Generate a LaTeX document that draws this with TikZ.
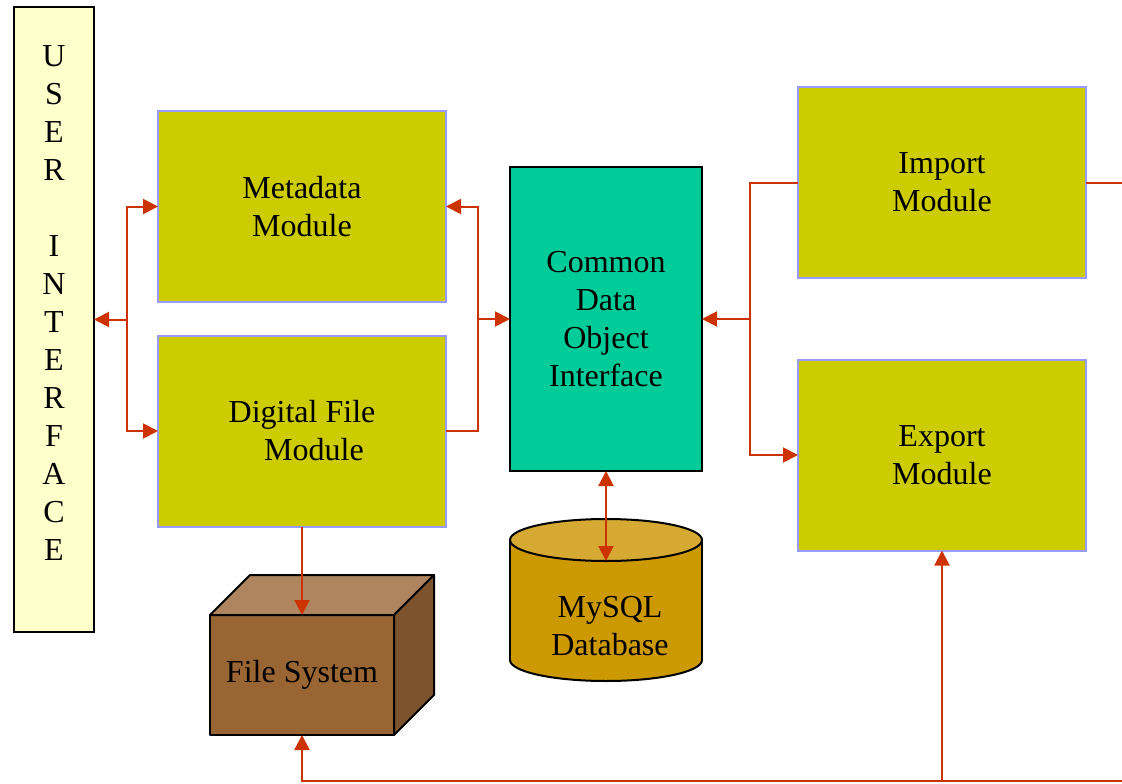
\documentclass[tikz,border=0pt]{standalone}
\usepackage{fontspec}
\setmainfont{Liberation Serif}
\usetikzlibrary{arrows.meta}
\definecolor{arrowc}{RGB}{204,51,0}
\definecolor{modfill}{RGB}{204,204,0}
\definecolor{modborder}{RGB}{153,153,255}
\definecolor{cdoifill}{RGB}{0,204,153}
\definecolor{uifill}{RGB}{255,255,204}
\definecolor{dbbody}{RGB}{204,153,0}
\definecolor{dbtop}{RGB}{214,169,51}
\definecolor{fsfront}{RGB}{153,102,51}
\definecolor{fstop}{RGB}{175,133,95}
\definecolor{fsside}{RGB}{124,83,45}
\begin{document}
\begin{tikzpicture}[x=1pt,y=-1pt,
  txt/.style={font=\fontsize{32}{38}\selectfont, align=center},
  modbox/.style={txt, draw=modborder, fill=modfill, line width=2pt,
    minimum width=288pt, minimum height=191pt, inner sep=0pt, outer sep=0pt},
  conn/.style={draw=arrowc, line width=2pt},
  arrowed/.style={conn, -{Triangle[length=15pt,width=15pt]}},
  darrowed/.style={conn, {Triangle[length=15pt,width=15pt]}-{Triangle[length=15pt,width=15pt]}},
  solidline/.style={draw=black, line width=2pt, line join=round},
]
\useasboundingbox[fill=white] (0,0) rectangle (1122,784);

% User interface
\node[txt, draw=black, fill=uifill, line width=2pt, minimum width=80pt,
  minimum height=625pt, inner sep=0pt, outer sep=0pt] (ui) at (54,319.5)
  {U\\S\\E\\R\\\mbox{}\\I\\N\\T\\E\\R\\F\\A\\C\\E\\[-6pt]\mbox{}};

% Modules
\node[modbox] (meta) at (302,206.5) {Metadata\\Module};
\node[modbox] (dig) at (302,431) {Digital File\\\hspace*{24pt}Module};
\node[modbox] (imp) at (942,182.5) {Import\\Module};
\node[modbox] (exp) at (942,455) {Export\\Module};

% Common data object interface
\node[txt, draw=black, fill=cdoifill, line width=2pt, minimum width=192pt,
  minimum height=304pt, inner sep=0pt, outer sep=0pt] (cdoi) at (606,319)
  {Common\\Data\\Object\\Interface};

% Database cylinder
\filldraw[fill=dbbody, solidline] (606,660) ellipse [x radius=96, y radius=21];
\fill[dbbody] (510,540) rectangle (702,660);
\draw[solidline] (510,540) -- (510,660);
\draw[solidline] (702,540) -- (702,660);
\filldraw[fill=dbtop, solidline] (606,540) ellipse [x radius=96, y radius=21];
\node[txt, inner sep=0pt] (db) at (610,626) {MySQL\\Database};
\coordinate (dbtopfront) at (606,561);

% File system box
\filldraw[fill=fsfront, solidline] (210,615) -- (394,615) -- (394,735) -- (210,735) -- cycle;
\filldraw[fill=fstop, solidline] (210,615) -- (250,575) -- (434,575) -- (394,615) -- cycle;
\filldraw[fill=fsside, solidline] (394,615) -- (434,575) -- (434,695) -- (394,735) -- cycle;
\node[txt, minimum width=184pt, minimum height=120pt, inner sep=0pt, outer sep=0pt]
  (fs) at (302,675) {File System};

% Junction coordinates
\coordinate (jl) at (127,319.5);
\coordinate (jm) at (478,319);
\coordinate (jr) at (750,319);
\coordinate (edgeTR) at (1124,182.5);
\coordinate (edgeBR) at (1124,781);

% Left bus
\draw[arrowed] (jl) -- (ui.east);
\draw[arrowed] (jl) |- (meta.west);
\draw[arrowed] (jl) |- (dig.west);

% Middle bus
\draw[arrowed] (jm) |- (meta.east);
\draw[conn] (dig.east) -| (jm);
\draw[arrowed] (jm) -- (cdoi.west);

% Right bus
\draw[arrowed] (jr) -- (cdoi.east);
\draw[conn] (imp.west) -| (jr);
\draw[arrowed] (jr) |- (exp.west);

% Import to edge
\draw[conn] (imp.east) -- (edgeTR);

% CDOI <-> DB
\draw[darrowed] (cdoi.south) -- (dbtopfront);

% Digital file -> file system
\draw[arrowed] (dig.south) -- (fs.north);

% Bottom line
\draw[arrowed, line width=2.5pt] (edgeBR) -| (fs.south);
\draw[arrowed] (exp.south |- edgeBR) -- (exp.south);
\end{tikzpicture}
\end{document}
